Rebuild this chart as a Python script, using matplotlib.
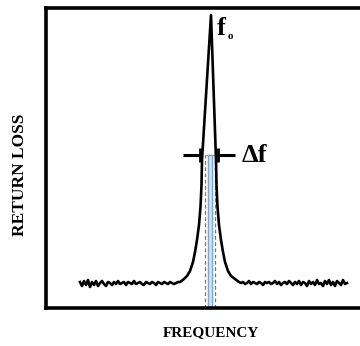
import numpy as np
import matplotlib
matplotlib.use('Agg')
import matplotlib.pyplot as plt

plt.rcParams["font.family"] = 'Liberation Serif'
plt.rcParams["font.weight"] = 'bold'

# resonance curve, arbitrary units (frequency, return loss)
left_start = 34
left_noise = [1, -3, 2, -2, 3, -4, 1, -2, 2, -3, 0, 2, -1, -3, 1, 0, -2, 1, -1, 2,
              -1, 0, 1, -2, 1, 0, -1, 2, -1, 0, 1, -1, -2, 1, 0, -1, 1, 0, -2, 1,
              0, -1, 1, 0, -1, 1, 0, -1, 0, 1]
peak_f = [134, 138, 141, 144, 147, 149, 151, 153, 154.5, 155.5, 156, 165,
          170, 170.5, 171.5, 173, 175, 177, 179, 182, 185, 189, 193]
peak_rl = [26, 29, 32, 37, 46, 56, 68, 83, 101, 123, 148, 293,
           148, 123, 101, 83, 68, 56, 46, 37, 32, 29, 26]
right_start = 195
right_noise = [0, 1, -1, 0, 2, -1, 1, 0, -1, 1, 0, -2, 1, 0, 1, -1, 0, 2, -1, 1,
               -2, 0, 1, -1, 2, 0, -2, 1, -1, 2, -2, 1, 0, -3, 2, -1, 1, -2, 3, -1,
               0, -3, 2, -1, 3, -2, 1, -3, 2, 0, -2, 3, -1, 0]
baseline = 25

f_lo, f_hi = 158.5, 169      # dashed half-power bounds
f_c1, f_c2 = 161.5, 166      # centre band
delta_level = 153

xl = left_start + 2 * np.arange(len(left_noise))
xr = right_start + 2 * np.arange(len(right_noise))
freq = np.concatenate([xl, peak_f, xr])
rl = np.concatenate([baseline + np.array(left_noise), peak_rl,
                     baseline + np.array(right_noise)])

fig = plt.figure(figsize=(3.6, 3.46), dpi=100)
ax = fig.add_axes([46 / 360, 38 / 346, 314 / 360, 300 / 346])
ax.set_xlim(0, 314)
ax.set_ylim(0, 300)

ax.fill_between([f_c1, f_c2], 0, delta_level, color='#d6e4f0', zorder=1)
ax.plot([f_c1, f_c1], [0, delta_level], color='#7fa6cc', lw=1.0, zorder=2)
ax.plot([f_c2, f_c2], [0, delta_level], color='#7fa6cc', lw=1.0, zorder=2)
ax.plot([f_lo, f_lo], [0, delta_level], color='#777777', lw=0.9, ls=(0, (3, 2)), zorder=2)
ax.plot([f_hi, f_hi], [0, delta_level], color='#777777', lw=0.9, ls=(0, (3, 2)), zorder=2)
ax.plot([f_lo, f_hi], [delta_level, delta_level], color='#999999', lw=0.9, zorder=2)

ax.plot(freq, rl, color='black', lw=1.9, zorder=3)

# delta f markers
ax.plot([137, 154], [delta_level, delta_level], color='black', lw=2.2, solid_capstyle='butt')
ax.plot([154, 154], [146, 160], color='black', lw=2.0, solid_capstyle='butt')
ax.plot([172, 189], [delta_level, delta_level], color='black', lw=2.2, solid_capstyle='butt')
ax.plot([172, 172], [146, 160], color='black', lw=2.0, solid_capstyle='butt')
ax.text(196, delta_level, '\u0394f', fontsize=19, fontweight='bold', va='center', ha='left')

ax.text(171, 273, 'f', fontsize=19, fontweight='bold', va='baseline', ha='left')
ax.text(182, 269, 'o', fontsize=8, fontweight='bold', va='baseline', ha='left')

for side in ['top', 'bottom', 'left']:
    ax.spines[side].set_linewidth(2.6)
ax.spines['right'].set_visible(False)
ax.set_xticks([])
ax.set_yticks([])

fig.text(211 / 360, 1 - 333 / 346, 'FREQUENCY', fontsize=11, fontweight='bold',
         ha='center', va='center')
fig.text(20 / 360, 1 - 175 / 346, 'RETURN LOSS', fontsize=12.5, fontweight='bold',
         ha='center', va='center', rotation=90)

fig.savefig('out.png', dpi=100)
